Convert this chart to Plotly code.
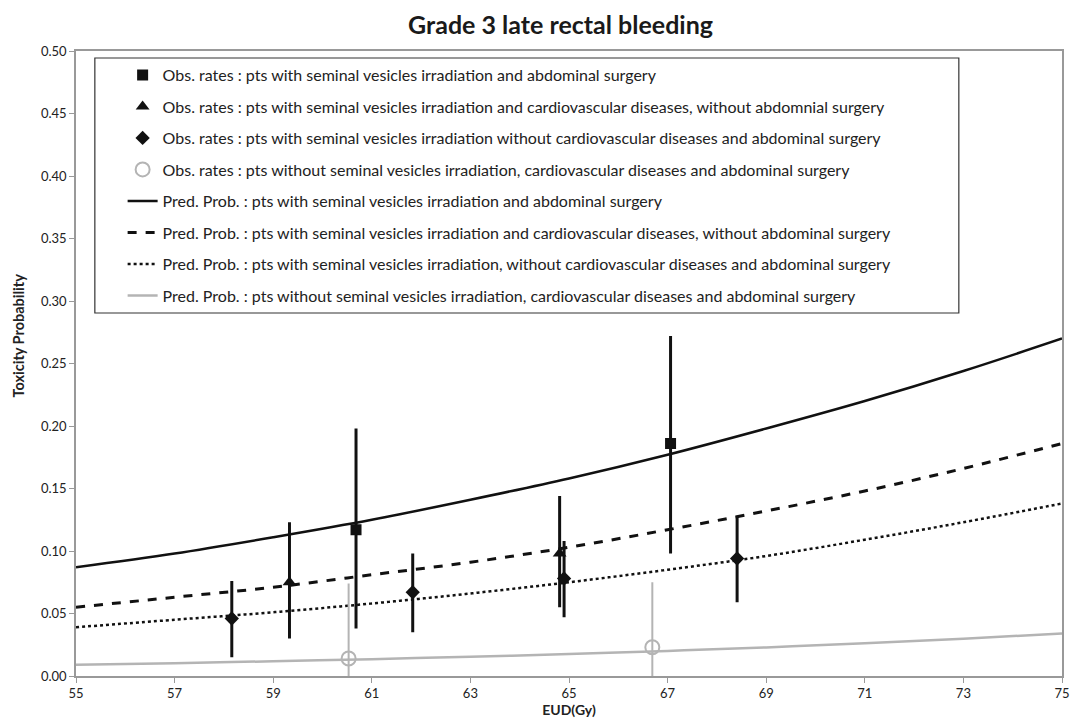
import plotly.graph_objects as go

# Observed rates (EUD in Gy, rate, 95% CI bounds)
sq_x = [60.68, 67.06]
sq_y = [0.117, 0.186]
sq_lo = [0.038, 0.098]
sq_hi = [0.198, 0.272]

tri_x = [59.33, 64.81]
tri_y = [0.075, 0.098]
tri_lo = [0.030, 0.055]
tri_hi = [0.123, 0.144]

dia_x = [58.16, 61.83, 64.90, 68.41]
dia_y = [0.046, 0.067, 0.078, 0.094]
dia_lo = [0.015, 0.035, 0.047, 0.059]
dia_hi = [0.076, 0.098, 0.108, 0.128]

cir_x = [60.53, 66.69]
cir_y = [0.014, 0.023]
cir_lo = [0.0, 0.0]
cir_hi = [0.074, 0.075]

# Predicted probability curves
eud = [55, 57, 59, 61, 63, 65, 67, 69, 71, 73, 75]
pred_sv_abd = [0.087, 0.098, 0.111, 0.125, 0.141, 0.158, 0.177, 0.198, 0.220, 0.244, 0.270]
pred_sv_cvd = [0.055, 0.063, 0.071, 0.081, 0.091, 0.103, 0.117, 0.132, 0.148, 0.166, 0.186]
pred_sv_none = [0.039, 0.045, 0.051, 0.058, 0.066, 0.075, 0.085, 0.096, 0.109, 0.123, 0.138]
pred_nosv = [0.009, 0.0103, 0.0118, 0.0135, 0.0154, 0.0176, 0.0201, 0.0229, 0.0262, 0.0298, 0.034]

x_ticks = [55, 57, 59, 61, 63, 65, 67, 69, 71, 73, 75]
y_ticks = [0.0, 0.05, 0.10, 0.15, 0.20, 0.25, 0.30, 0.35, 0.40, 0.45, 0.50]

names_obs = [
    "Obs. rates : pts with seminal vesicles irradiation and abdominal surgery",
    "Obs. rates : pts with seminal vesicles irradiation and cardiovascular diseases, without abdomnial surgery",
    "Obs. rates : pts with seminal vesicles irradiation without cardiovascular diseases and abdominal surgery",
    "Obs. rates : pts without seminal vesicles irradiation, cardiovascular diseases and abdominal surgery",
]
names_pred = [
    "Pred. Prob. : pts with seminal vesicles irradiation and abdominal surgery",
    "Pred. Prob. : pts with seminal vesicles irradiation and cardiovascular diseases, without abdominal surgery",
    "Pred. Prob. : pts with seminal vesicles irradiation, without cardiovascular diseases and abdominal surgery",
    "Pred. Prob. : pts without seminal vesicles irradiation, cardiovascular diseases and abdominal surgery",
]

BLACK = "#111111"
GREY = "#b4b4b4"
FONT = "Lato"

fig = go.Figure()

# Predicted curves first, so the observed markers sit on top
curves = [
    (pred_sv_abd, BLACK, "solid", 2.5),
    (pred_sv_cvd, BLACK, "dash", 3),
    (pred_sv_none, BLACK, "dot", 2.5),
    (pred_nosv, GREY, "solid", 2.5),
]
for j, (vals, col, dash, w) in enumerate(curves):
    fig.add_trace(go.Scatter(
        x=eud, y=vals, mode="lines", name=names_pred[j],
        legendgroup=f"g{5 + j}", legendrank=5 + j,
        line=dict(color=col, dash=dash, width=w, shape="spline"),
    ))

obs = [
    (sq_x, sq_y, sq_lo, sq_hi, "square", BLACK, 11, 3),
    (tri_x, tri_y, tri_lo, tri_hi, "triangle-up", BLACK, 12, 3),
    (dia_x, dia_y, dia_lo, dia_hi, "diamond", BLACK, 11, 3),
    (cir_x, cir_y, cir_lo, cir_hi, "circle-open", GREY, 14, 2),
]
for i, (xs, ys, lo, hi, sym, col, sz, ew) in enumerate(obs):
    fig.add_trace(go.Scatter(
        x=xs, y=ys, mode="markers", name=names_obs[i],
        legendgroup=f"g{1 + i}", legendrank=1 + i,
        marker=dict(symbol=sym, color=col, size=sz,
                    line=dict(color=col, width=2 if sym == "circle-open" else 0)),
        error_y=dict(type="data", symmetric=False,
                     array=[h - y for h, y in zip(hi, ys)],
                     arrayminus=[y - l for y, l in zip(ys, lo)],
                     color=col, thickness=ew, width=0),
    ))

# legend frame
fig.add_shape(type="rect", xref="paper", yref="paper",
              x0=(95 - 76) / 994, x1=(966 - 76) / 994,
              y0=(676 - 313) / 625, y1=(676 - 58) / 625,
              line=dict(color="#333333", width=1.2), fillcolor="white", layer="below")

# y-axis title
fig.add_annotation(text="<b>Toxicity Probability</b>", textangle=-90,
                   xref="paper", yref="paper", x=(18 - 76) / 994, y=(676 - 335) / 625,
                   xanchor="center", yanchor="middle", showarrow=False,
                   font=dict(size=14.5, family=FONT, color="#222222"))

fig.update_layout(
    width=1078, height=722,
    margin=dict(l=76, r=8, t=51, b=46),
    paper_bgcolor="white", plot_bgcolor="white",
    font=dict(family=FONT, color="#222222"),
    title=dict(text="<b>Grade 3 late rectal bleeding</b>", x=0.52, xanchor="center",
               y=0.965, yanchor="middle", font=dict(size=25, color="#1a1a1a", family=FONT)),
    showlegend=True,
    legend=dict(
        x=(123 - 76) / 994, y=(676 - 58) / 625, xanchor="left", yanchor="top",
        bgcolor="rgba(0,0,0,0)", borderwidth=0,
        font=dict(size=16, family=FONT, color="#222222"),
        tracegroupgap=7.7, traceorder="grouped", itemwidth=30,
    ),
    xaxis=dict(
        range=[55, 75], tickvals=x_ticks, ticktext=[str(t) for t in x_ticks],
        showgrid=False, zeroline=False, showline=True, linecolor="#999999", linewidth=1.5,
        mirror=True, ticks="outside", ticklen=5, tickcolor="#999999",
        tickfont=dict(size=13, family=FONT, color="#222222"),
        title=dict(text="<b>EUD(Gy)</b>", font=dict(size=14, family=FONT), standoff=2),
    ),
    yaxis=dict(
        range=[0, 0.5], tickvals=y_ticks, ticktext=[f"{t:.2f}" for t in y_ticks],
        showgrid=False, zeroline=False, showline=True, linecolor="#999999", linewidth=1.5,
        mirror=True, ticks="outside", ticklen=5, tickcolor="#999999",
        tickfont=dict(size=13, family=FONT, color="#222222"),
    ),
)

fig.write_html("out.html")
